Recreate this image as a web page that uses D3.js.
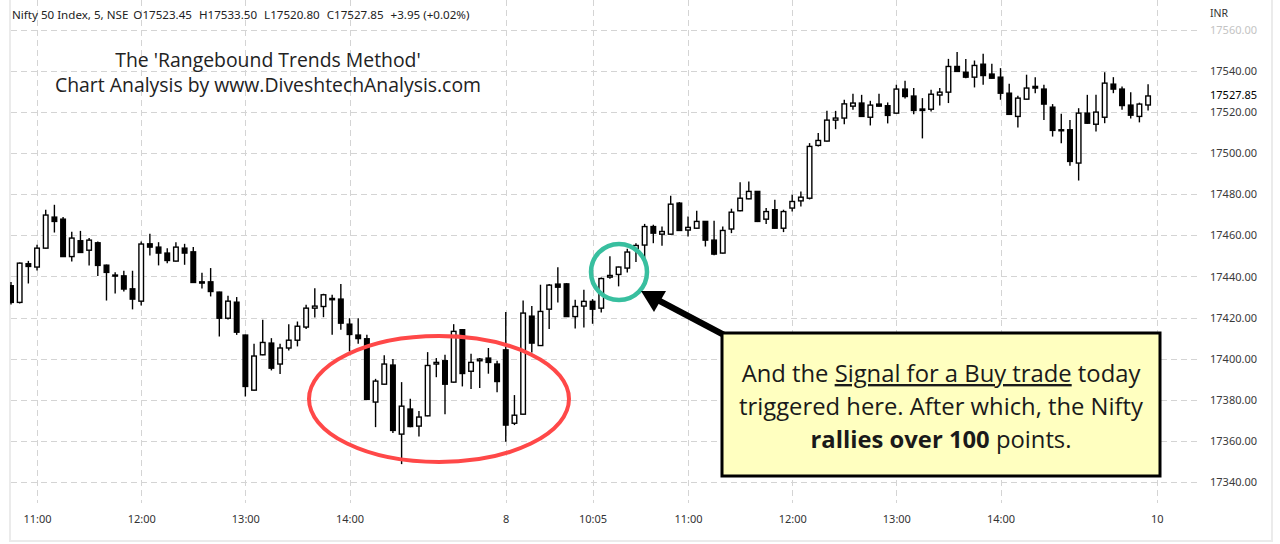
<!DOCTYPE html>
<html><head><meta charset="utf-8">
<script src="https://cdn.jsdelivr.net/npm/d3@7"></script>
<style>html,body{margin:0;padding:0;background:#fff;}svg{display:block;}</style>
</head><body>
<svg id="c" width="1280" height="544"></svg>
<script>
// ---- data ----
const opens = [17435.5,17427.4,17446.2,17444.6,17453.8,17468.9,17467.9,17449.7,17457.4,17452.8,17456.4,17445.5,17440.7,17440.3,17434.0,17428.0,17455.9,17454.3,17451.4,17447.5,17453.8,17452.0,17437.4,17437.4,17432.4,17419.7,17427.5,17411.5,17384.7,17401.9,17407.6,17397.4,17405.2,17409.0,17415.4,17424.6,17425.4,17429.3,17429.0,17416.8,17411.5,17409.7,17378.9,17387.6,17396.9,17363.3,17375.5,17367.2,17372.2,17397.4,17399.0,17388.6,17414.1,17393.9,17399.0,17400.3,17397.4,17404.3,17368.6,17373.0,17420.7,17406.4,17424.1,17436.3,17436.4,17420.5,17425.6,17427.9,17424.6,17439.7,17441.0,17444.1,17453.5,17455.3,17464.3,17460.6,17460.6,17475.7,17462.6,17463.5,17466.8,17457.7,17451.4,17463.1,17472.0,17477.8,17481.4,17467.9,17472.5,17463.5,17473.3,17476.8,17478.1,17503.8,17505.9,17516.1,17517.1,17522.9,17524.4,17517.5,17523.9,17523.1,17519.5,17531.2,17527.8,17521.5,17521.4,17528.3,17529.7,17542.2,17539.4,17537.0,17543.3,17538.5,17537.0,17529.2,17517.9,17526.3,17532.5,17531.2,17522.4,17511.4,17511.4,17495.2,17519.5,17514.1,17517.5,17533.6,17531.2,17523.4,17517.9,17523.45];
const highs = [17437.3,17446.8,17447.6,17455.4,17472.5,17474.9,17468.9,17461.8,17462.2,17458.7,17457.0,17445.8,17442.1,17442.8,17442.8,17457.0,17460.8,17456.7,17453.8,17456.7,17455.9,17454.3,17441.8,17444.1,17432.6,17430.6,17430.0,17411.7,17407.3,17418.9,17410.0,17407.3,17416.8,17418.1,17426.2,17434.3,17431.6,17431.1,17436.4,17419.7,17419.7,17411.6,17390.2,17401.7,17399.8,17388.6,17380.5,17374.6,17403.2,17400.3,17401.9,17416.8,17414.4,17402.4,17400.3,17405.2,17399.0,17422.7,17382.3,17428.3,17425.7,17436.0,17436.4,17444.5,17436.8,17428.7,17433.5,17429.0,17439.5,17449.8,17444.8,17453.5,17456.2,17465.6,17465.2,17464.3,17479.3,17476.2,17469.2,17472.0,17467.0,17467.1,17464.3,17473.0,17485.9,17486.2,17481.6,17473.3,17477.3,17472.5,17479.8,17481.4,17504.9,17509.8,17520.6,17520.6,17526.0,17528.9,17528.4,17525.5,17528.9,17524.7,17533.3,17535.2,17531.7,17526.8,17530.9,17531.7,17545.9,17549.2,17545.9,17545.1,17548.4,17543.5,17541.4,17533.8,17527.9,17538.2,17537.0,17533.3,17523.9,17519.2,17516.2,17521.9,17528.4,17528.4,17539.4,17537.0,17532.5,17529.7,17524.6,17533.50];
const lows = [17426.4,17426.9,17436.6,17442.9,17453.6,17461.4,17449.5,17447.3,17451.5,17445.4,17440.3,17428.3,17431.7,17432.7,17424.0,17425.9,17450.2,17445.4,17446.5,17447.3,17445.7,17436.9,17434.2,17430.3,17410.8,17419.1,17411.6,17381.6,17384.5,17401.7,17394.3,17392.5,17404.0,17406.0,17414.4,17420.1,17420.2,17411.6,17414.1,17403.5,17407.3,17380.0,17366.7,17387.4,17363.8,17348.7,17366.7,17362.2,17372.0,17391.0,17373.0,17388.4,17386.5,17385.2,17385.7,17392.7,17383.7,17359.6,17367.7,17372.8,17403.0,17406.2,17414.4,17427.4,17420.3,17414.7,17415.2,17417.0,17422.5,17438.9,17435.2,17442.0,17447.0,17448.0,17456.2,17455.0,17460.4,17462.2,17459.5,17463.1,17454.6,17450.4,17451.2,17461.1,17471.8,17477.6,17466.5,17465.5,17463.3,17461.6,17471.6,17474.1,17477.5,17503.3,17505.7,17511.7,17514.1,17521.1,17517.7,17513.5,17522.7,17514.5,17519.3,17526.6,17518.9,17507.2,17520.3,17523.2,17524.4,17539.6,17536.5,17532.0,17533.3,17536.3,17526.0,17518.7,17512.5,17526.1,17529.2,17516.2,17508.1,17504.9,17493.9,17486.7,17514.3,17510.6,17514.6,17529.2,17521.1,17516.9,17515.0,17520.80];
const closes = [17427.4,17446.5,17444.9,17453.8,17469.9,17466.8,17449.7,17458.7,17451.7,17457.7,17445.4,17442.0,17440.2,17433.9,17429.0,17455.8,17454.3,17451.4,17447.8,17454.3,17451.4,17437.1,17436.8,17432.7,17419.7,17428.0,17412.9,17386.5,17401.3,17407.9,17395.4,17405.2,17409.0,17415.8,17424.6,17425.6,17431.1,17428.7,17417.3,17411.8,17409.8,17380.2,17389.1,17397.4,17365.1,17376.9,17367.0,17371.6,17396.7,17398.2,17387.6,17413.3,17392.8,17398.2,17399.8,17398.2,17388.9,17367.7,17372.5,17422.2,17407.6,17423.0,17435.8,17434.8,17420.5,17425.4,17427.9,17424.1,17439.0,17440.5,17444.6,17451.9,17455.1,17464.3,17461.1,17461.9,17475.2,17462.4,17463.9,17466.8,17457.7,17450.9,17462.4,17471.3,17478.1,17481.4,17466.8,17471.6,17463.5,17471.6,17476.5,17478.6,17503.3,17506.2,17516.1,17517.1,17524.0,17524.4,17517.9,17523.4,17522.9,17518.4,17531.2,17527.6,17520.8,17520.8,17528.7,17529.7,17542.2,17539.8,17537.0,17542.7,17537.8,17536.5,17529.2,17518.9,17526.8,17531.7,17531.7,17523.9,17511.1,17511.1,17496.0,17519.5,17514.6,17520.0,17534.1,17531.2,17523.2,17518.5,17523.9,17527.85];
const priceTicks = [17340,17360,17380,17400,17420,17440,17460,17480,17500,17520,17540,17560];
const timeTickIdx = [3,15,27,39,57,67,78,90,102,114,132];
const timeTickLabels = ["11:00","12:00","13:00","14:00","8","10:05","11:00","12:00","13:00","14:00","10"];
const lastPrice = 17527.85;
const headerParts = ["Nifty 50 Index, 5, NSE","O17523.45","H17533.50","L17520.80","C17527.85","+3.95 (+0.02%)"];
const titleLines = ["The 'Rangebound Trends Method'","Chart Analysis by www.DiveshtechAnalysis.com"];

// ---- layout ----
const svg = d3.select("#c");
const plot = {left:10, right:1200, top:0, bottom:503};
const x = d3.scaleLinear().domain([0,132]).range([11, 11+132*8.68]);
const y = d3.scaleLinear().domain([17340,17560]).range([482,29.9]);
const grid = "#d4d4d4";

svg.append("defs").append("clipPath").attr("id","pc")
  .append("rect").attr("x",plot.left).attr("y",plot.top).attr("width",plot.right-plot.left).attr("height",plot.bottom-plot.top);

// frame
svg.append("rect").attr("x",10).attr("y",-2).attr("width",1262).attr("height",543)
  .attr("fill","none").attr("stroke","#ebebeb").attr("stroke-width",2);

// gridlines
const g = svg.append("g");
g.selectAll(".hg").data(priceTicks).join("line")
  .attr("x1",plot.left+1).attr("x2",plot.right).attr("y1",d=>Math.round(y(d))+0.5).attr("y2",d=>Math.round(y(d))+0.5)
  .attr("stroke",grid).attr("stroke-dasharray","6,4");
g.selectAll(".vg").data(timeTickIdx).join("line")
  .attr("x1",d=>Math.round(x(d))+0.5).attr("x2",d=>Math.round(x(d))+0.5).attr("y1",0).attr("y2",plot.bottom)
  .attr("stroke",grid).attr("stroke-dasharray","6,4");

// candles
const data = opens.map((o,i)=>({i,o,h:highs[i],l:lows[i],c:closes[i]}));
const cg = svg.append("g").attr("clip-path","url(#pc)");
const bw = 4.6;
cg.selectAll(".w").data(data).join("line")
  .attr("x1",d=>x(d.i)).attr("x2",d=>x(d.i)).attr("y1",d=>y(d.h)).attr("y2",d=>y(d.l))
  .attr("stroke","#000").attr("stroke-width",1.4);
cg.selectAll(".b").data(data).join("rect")
  .attr("x",d=>x(d.i)-bw/2).attr("width",bw)
  .attr("y",d=>y(Math.max(d.o,d.c)))
  .attr("height",d=>Math.max(1,Math.abs(y(d.o)-y(d.c))))
  .attr("fill",d=>d.c>=d.o?"#fff":"#000").attr("stroke","#000").attr("stroke-width",1.4);

// right axis
const ra = svg.append("g").attr("transform",`translate(1206,0)`)
  .call(d3.axisRight(y).tickValues(priceTicks).tickSize(0).tickFormat(d3.format(".2f")));
ra.select(".domain").remove();
ra.selectAll("text").attr("font-family","'Noto Sans', sans-serif").attr("font-size",11).attr("fill",d=>d===17560?"#c4c4c4":"#3a3a3a").attr("x",4);
svg.append("text").attr("x",1210).attr("y",y(lastPrice)).attr("dy","0.32em")
  .attr("font-family","'Noto Sans', sans-serif").attr("font-size",11).attr("fill","#000").text(d3.format(".2f")(lastPrice));
svg.append("text").attr("x",1210).attr("y",17).attr("font-family","'Noto Sans', sans-serif").attr("font-size",10.5).attr("fill","#333").text("INR");

// bottom axis
const ba = svg.append("g").attr("transform",`translate(0,512)`)
  .call(d3.axisBottom(x).tickValues(timeTickIdx).tickSize(0).tickFormat((d,k)=>timeTickLabels[k]));
ba.select(".domain").remove();
ba.selectAll("text").attr("font-family","'Noto Sans', sans-serif").attr("font-size",11).attr("fill","#333");

// header
const ht = svg.append("text").attr("x",12).attr("y",19).attr("font-family","'Noto Sans', sans-serif").attr("font-size",11.6).attr("fill","#222");
headerParts.forEach((p,k)=>ht.append("tspan").attr("dx",k===0?0:(k===1?5:7)).text(p));

// title
svg.selectAll(".tt").data(titleLines).join("text")
  .attr("x",268).attr("y",(d,k)=>67+k*25).attr("text-anchor","middle")
  .attr("font-family","'Open Sans', sans-serif").attr("font-size",19.4).attr("fill","#222").text(d=>d);

// red ellipse
svg.append("ellipse").attr("cx",439).attr("cy",399).attr("rx",130).attr("ry",63)
  .attr("fill","none").attr("stroke","#ff4848").attr("stroke-width",4);
// green circle
svg.append("circle").attr("cx",619).attr("cy",272).attr("r",28)
  .attr("fill","none").attr("stroke","#38bf9f").attr("stroke-width",4.5);

// arrow
svg.append("line").attr("x1",726).attr("y1",336).attr("x2",656).attr("y2",299)
  .attr("stroke","#000").attr("stroke-width",6.5);
svg.append("polygon").attr("points","641,291 666,291 654,312").attr("fill","#000");

// box
svg.append("rect").attr("x",722).attr("y",333).attr("width",438).attr("height",143)
  .attr("fill","#ffffc0").attr("stroke","#000").attr("stroke-width",3);
const bf = "'Open Sans', sans-serif", fs = 23.8;
const l1 = svg.append("text").attr("x",941).attr("y",382).attr("text-anchor","middle").attr("font-family",bf).attr("font-size",fs).attr("fill","#1a1a1a");
l1.append("tspan").text("And the ");
l1.append("tspan").attr("text-decoration","underline").text("Signal for a Buy trade");
l1.append("tspan").text(" today");
svg.append("text").attr("x",941).attr("y",415).attr("text-anchor","middle").attr("font-family",bf).attr("font-size",fs).attr("fill","#1a1a1a")
  .text("triggered here. After which, the Nifty");
const l3 = svg.append("text").attr("x",941).attr("y",448).attr("text-anchor","middle").attr("font-family",bf).attr("font-size",fs).attr("fill","#1a1a1a");
l3.append("tspan").attr("font-weight","bold").text("rallies over 100");
l3.append("tspan").text(" points.");
</script>
</body></html>
